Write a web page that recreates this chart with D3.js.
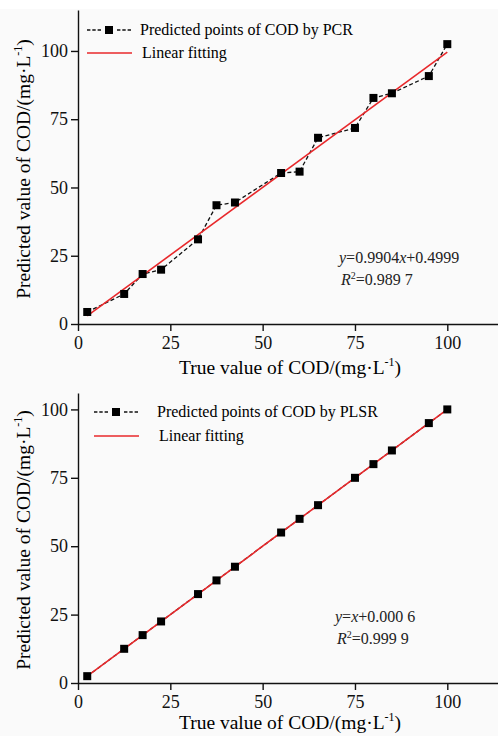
<!DOCTYPE html>
<html>
<head>
<meta charset="utf-8">
<script src="https://cdn.jsdelivr.net/npm/d3@7"></script>
<style>
  body { margin: 0; background: #fafafa; }
  svg { display: block; }
  .axis path, .axis line { stroke: #111; stroke-width: 1.4; }
  .axis text { fill: #111; }
</style>
</head>
<body>
<svg id="chart"></svg>
<script>
// True COD values of the test samples (mg/L)
const trueValues = [2.5, 12.5, 17.5, 22.5, 32.5, 37.5, 42.5, 55, 60, 65, 75, 80, 85, 95, 100]

// Predicted values
const pcrPredicted = [4.4, 11, 18.3, 19.9, 31, 43.5, 44.5, 55.3, 55.8, 68.2, 71.8, 82.8, 84.5, 90.8, 102.5]
const plsrPredicted = [2.5, 12.5, 17.5, 22.5, 32.5, 37.5, 42.5, 55, 60, 65, 75, 80, 85, 95, 100]

// Linear fits [slope, intercept]
const pcrFit = [0.9904, 0.4999]
const plsrFit = [1, 0.0006]

const tickValues = [0, 25, 50, 75, 100]
const legendLabels = ["Predicted points of COD by PCR", "Predicted points of COD by PLSR"]

const WIDTH = 498
const HEIGHT = 736
const FONT = "'Liberation Serif', 'Times New Roman', 'DejaVu Serif', serif"

const svg = d3.select("#chart")
  .attr("width", WIDTH)
  .attr("height", HEIGHT)
  .attr("font-family", FONT)

// white strip above the first panel
svg.append("rect").attr("width", WIDTH).attr("height", 9).attr("fill", "#fff")

function drawPanel(p) {
  const x = d3.scaleLinear().domain([0, 114]).range([78, 499])
  const y = d3.scaleLinear().domain([0, p.yMax]).range([p.bottom, p.top])
  const g = svg.append("g")

  g.append("g")
    .attr("class", "axis")
    .attr("transform", `translate(0,${p.bottom})`)
    .call(d3.axisBottom(x).tickValues(tickValues).tickSize(7).tickPadding(5).tickSizeOuter(0))
    .attr("font-family", FONT)
    .attr("font-size", 18)
  g.append("g")
    .attr("class", "axis")
    .attr("transform", "translate(78,0)")
    .call(d3.axisLeft(y).tickValues(tickValues).tickSize(7).tickPadding(3).tickSizeOuter(0))
    .attr("font-family", FONT)
    .attr("font-size", 18)

  const pts = trueValues.map((t, i) => [t, p.pred[i]])

  // dashed connection of the predicted points
  g.append("path")
    .datum(pts)
    .attr("fill", "none")
    .attr("stroke", "#111")
    .attr("stroke-width", 1.3)
    .attr("stroke-dasharray", "4,2.5")
    .attr("d", d3.line().x((d) => x(d[0])).y((d) => y(d[1])))

  // fitted line, drawn over the dashes
  const fx = d3.extent(trueValues)
  g.append("line")
    .attr("x1", x(fx[0])).attr("y1", y(p.fit[0] * fx[0] + p.fit[1]))
    .attr("x2", x(fx[1])).attr("y2", y(p.fit[0] * fx[1] + p.fit[1]))
    .attr("stroke", "#e8282b").attr("stroke-width", 1.6)

  g.selectAll(".pt")
    .data(pts)
    .join("rect")
    .attr("class", "pt")
    .attr("x", (d) => x(d[0]) - 4)
    .attr("y", (d) => y(d[1]) - 4)
    .attr("width", 8)
    .attr("height", 8)
    .attr("fill", "#000")

  // legend: --- ■ ---
  const lg = g.append("g").attr("transform", `translate(${p.legX},${p.legY})`)
  ;[[0, 14], [30, 44]].forEach((s) => {
    lg.append("line").attr("x1", s[0]).attr("x2", s[1]).attr("y1", 0).attr("y2", 0)
      .attr("stroke", "#111").attr("stroke-width", 1.3).attr("stroke-dasharray", "3.4,1.9")
  })
  lg.append("rect").attr("x", 18).attr("y", -4).attr("width", 8).attr("height", 8).attr("fill", "#000")
  lg.append("text").attr("x", p.legText).attr("y", 5).attr("font-size", 16).text(p.label)
  lg.append("line").attr("x1", 0).attr("x2", 45).attr("y1", p.legGap).attr("y2", p.legGap)
    .attr("stroke", "#e8282b").attr("stroke-width", 1.4)
  lg.append("text").attr("x", p.legText + 2).attr("y", p.legGap + 5).attr("font-size", 16).text("Linear fitting")

  // equation
  const eq = g.append("text").attr("x", p.eqX).attr("y", p.eqY).attr("font-size", 16).attr("fill", "#222")
  p.eq.forEach((s) => eq.append("tspan").attr("font-style", s[1] ? "italic" : null).text(s[0]))
  const r2 = g.append("text").attr("x", p.eqX + 2).attr("y", p.eqY + 22).attr("font-size", 16).attr("fill", "#222")
  r2.append("tspan").attr("font-style", "italic").text("R")
  r2.append("tspan").attr("font-size", 10).attr("dy", -6).text("2")
  r2.append("tspan").attr("dy", 6).text("=" + p.r2)

  // axis titles
  const xt = g.append("text").attr("x", 290).attr("y", p.bottom + p.titleGap)
    .attr("text-anchor", "middle").attr("font-size", 19.5)
  xt.append("tspan").text("True value of COD/(mg·L")
  xt.append("tspan").attr("font-size", 12).attr("dy", -8).text("-1")
  xt.append("tspan").attr("dy", 8).text(")")

  const yt = g.append("text")
    .attr("transform", `translate(30,${(p.top + p.bottom) / 2 + 2}) rotate(-90)`)
    .attr("text-anchor", "middle").attr("font-size", 19.5)
  yt.append("tspan").text("Predicted value of COD/(mg·L")
  yt.append("tspan").attr("font-size", 12).attr("dy", -8).text("-1")
  yt.append("tspan").attr("dy", 8).text(")")
}

drawPanel({
  top: 10, bottom: 324, yMax: 115, pred: pcrPredicted, fit: pcrFit, titleGap: 50,
  label: legendLabels[0], legX: 87, legY: 30, legGap: 23, legText: 53,
  eq: [["y", true], ["=0.9904", false], ["x", true], ["+0.4999", false]],
  r2: "0.989 7", eqX: 339, eqY: 263,
})

drawPanel({
  top: 393, bottom: 683, yMax: 106, pred: plsrPredicted, fit: plsrFit, titleGap: 46,
  label: legendLabels[1], legX: 94, legY: 412, legGap: 24, legText: 63,
  eq: [["y", true], ["=", false], ["x", true], ["+0.000 6", false]],
  r2: "0.999 9", eqX: 335, eqY: 622,
})
</script>
</body>
</html>
